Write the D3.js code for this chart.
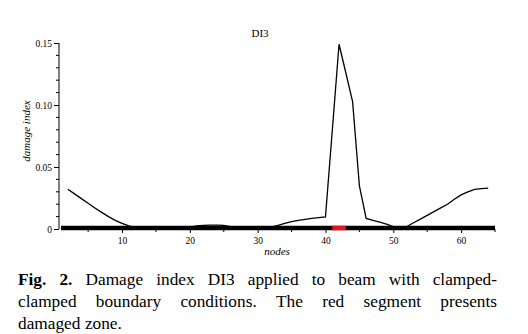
<!DOCTYPE html>
<html><head><meta charset="utf-8">
<script src="https://cdn.jsdelivr.net/npm/d3@7"></script>
<style>body{margin:0;background:#fff}svg{display:block}svg text{font-family:"Liberation Serif","Times New Roman",serif}</style>
</head><body>
<svg id="c" width="528" height="334"></svg>
<script>
const nodes = [2,3,4,5,6,7,8,9,10,11,12,13,14,15,16,17,18,19,20,21,22,23,24,25,26,27,28,29,30,31,32,33,34,35,36,37,38,39,40,41,42,43,44,45,46,47,48,49,50,51,52,53,54,55,56,57,58,59,60,61,62,63,64];
const di3 = [0.032,0.0283,0.0245,0.0207,0.0170,0.0134,0.0100,0.0070,0.0045,0.0025,0.0011,0.0003,0,0,0,0,0,0.0005,0.0015,0.0025,0.003,0.0032,0.0032,0.003,0.002,0.0008,0.0002,0.0001,0,0.0005,0.0015,0.003,0.0045,0.006,0.007,0.0078,0.0085,0.0092,0.0098,0.079,0.149,0.126,0.1027,0.035,0.0085,0.007,0.0055,0.004,0.002,0.0003,0.002,0.005,0.008,0.011,0.014,0.017,0.020,0.024,0.0275,0.030,0.032,0.0325,0.033];
const beamSpan = [1,65];
const damagedZone = [41,43];
const xTickValues = [10,20,30,40,50,60];
const xMinorTicks = [5,15,25,35,45,55,65];
const yTickValues = [0,0.05,0.10,0.15];
const yTickLabels = ["0","0.05","0.10","0.15"];
const title = "DI3";
const xLabel = "nodes";
const yLabel = "damage index";
const captionLines = [
  [{t:"Fig.",b:true},{t:"2.",b:true},{t:"Damage"},{t:"index"},{t:"DI3"},{t:"applied"},{t:"to"},{t:"beam"},{t:"with"},{t:"clamped-"}],
  [{t:"clamped"},{t:"boundary"},{t:"conditions."},{t:"The"},{t:"red"},{t:"segment"},{t:"presents"}],
  [{t:"damaged"},{t:"zone."}]
];

const svg = d3.select("#c");
const font = "'Liberation Serif', 'Times New Roman', serif";
const x = d3.scaleLinear().domain(beamSpan).range([61, 495]);
const y = d3.scaleLinear().domain([0, 0.15]).range([229, 43]);

// title
svg.append("text").attr("x", 260).attr("y", 37).attr("text-anchor","middle")
  .style("font-family", font).style("font-size", "11px").text(title);

// y axis
const yAxisX = 59;
const gy = svg.append("g").attr("transform", `translate(${yAxisX},0)`)
  .call(d3.axisLeft(y).tickValues(yTickValues).tickSize(5).tickPadding(2)
    .tickFormat((d,i)=>yTickLabels[i]));
gy.attr("font-family", null);
gy.select(".domain").attr("d", `M0,${y(0)}V${y(0.15)}`).attr("stroke","#000").attr("stroke-width",1);
gy.selectAll("text").style("font-family", font).style("font-size", "9.5px");
const yMinor = d3.range(1,15).map(i=>i/100).filter(v=>Math.abs(v*100%5)>0.01);
gy.selectAll(".minor").data(yMinor).join("line").attr("class","minor")
  .attr("x1",-3).attr("x2",0).attr("y1",d=>y(d)).attr("y2",d=>y(d)).attr("stroke","#000");

// x axis ticks (below baseline)
const gx = svg.append("g").attr("transform", `translate(0,${y(0)})`)
  .call(d3.axisBottom(x).tickValues(xTickValues).tickSize(4).tickPadding(4));
gx.attr("font-family", null);
gx.select(".domain").remove();
gx.selectAll("text").style("font-family", font).style("font-size", "9.5px");
gx.selectAll(".minor").data(xMinorTicks).join("line").attr("class","minor")
  .attr("x1",d=>x(d)).attr("x2",d=>x(d)).attr("y1",0).attr("y2",3).attr("stroke","#000");

// thick baseline (beam) and damaged zone
svg.append("line").attr("x1", x(beamSpan[0])).attr("x2", x(beamSpan[1]))
  .attr("y1", y(0)-1).attr("y2", y(0)-1).attr("stroke","#000").attr("stroke-width",4.5);
svg.append("line").attr("x1", x(damagedZone[0])).attr("x2", x(damagedZone[1]))
  .attr("y1", y(0)-1).attr("y2", y(0)-1).attr("stroke","#e8141b").attr("stroke-width",4.5);

// curve
const line = d3.line().x((d,i)=>x(nodes[i])).y(d=>y(d));
svg.append("path").datum(di3).attr("d", line).attr("fill","none")
  .attr("stroke","#000").attr("stroke-width",1.3).attr("stroke-linejoin","miter");

// axis labels
svg.append("text").attr("x", 277).attr("y", 255).attr("text-anchor","middle")
  .style("font-family", font).style("font-style","italic").style("font-size", "11px").text(xLabel);
svg.append("text").attr("transform","translate(30,131) rotate(-90)").attr("text-anchor","middle")
  .style("font-family", font).style("font-style","italic").style("font-size", "11px").text(yLabel);

// caption (justified)
const capLeft = 18, capRight = 497, capY = [285, 307, 329];
captionLines.forEach((words, li) => {
  const g = svg.append("g");
  const els = words.map(w => g.append("text").attr("y", capY[li])
    .style("font-family", font).style("font-size", "17.3px")
    .style("font-weight", w.b ? "bold" : "normal").text(w.t));
  const widths = els.map(e => e.node().getComputedTextLength());
  const total = d3.sum(widths);
  let gap = li < captionLines.length - 1 ? (capRight - capLeft - total) / (words.length - 1) : 4.5;
  let cx = capLeft;
  els.forEach((e,i)=>{ e.attr("x", cx); cx += widths[i] + gap; });
});
</script>
</body></html>
